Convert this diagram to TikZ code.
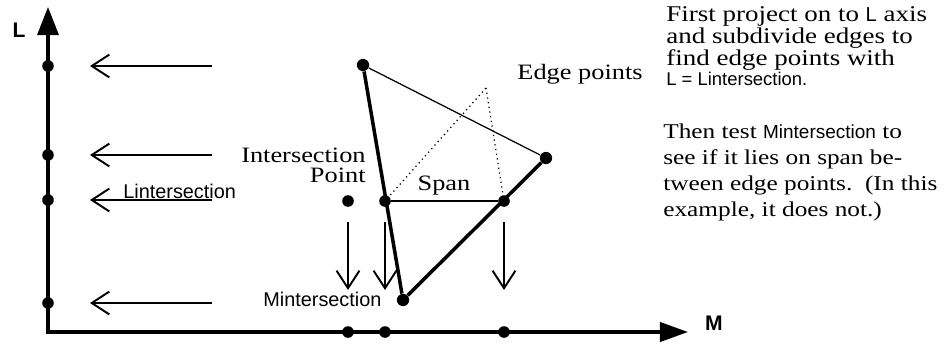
\documentclass[tikz,border=0pt]{standalone}
\usepackage{fontspec}
\setmainfont{Liberation Serif}[FakeStretch=1.2]
\newfontfamily\hlv{Liberation Sans}
\usetikzlibrary{arrows.meta}

\begin{document}
\begin{tikzpicture}[
  x=0.02cm, y=-0.02cm,
  dot/.style={circle, fill, inner sep=0pt, minimum size=6.6pt},
  axis/.style={line width=1.8pt, {Triangle[length=16pt,width=12pt]}-{Triangle[length=16pt,width=11pt]}},
  proj/.style={line width=1.1pt, -{Straight Barb[length=10pt,width=13pt]}},
  thickedge/.style={line width=2pt},
  thinedge/.style={line width=0.7pt},
  lbl/.style={inner sep=0pt, font=\fontsize{12.5}{11.3}\selectfont},
  sanslbl/.style={inner sep=0pt, font=\hlv\fontsize{11.3}{12}\selectfont},
  axislbl/.style={inner sep=0pt, font=\hlv\bfseries\fontsize{12}{12}\selectfont}
]
\useasboundingbox (0,0) rectangle (947,345);

% axes
\coordinate (ltip) at (48,7);
\coordinate (origin) at (48,332);
\coordinate (mtip) at (688,332);
\draw[axis] (ltip) -- (origin) -- (mtip);
\node[axislbl] (llabel) at (19,30) {L};
\node[axislbl] (mlabel) at (714,323) {M};

% triangle
\node[dot, minimum size=7pt] (ta) at (363,65) {};
\node[dot, minimum size=7pt] (tb) at (546,158) {};
\node[dot, minimum size=7pt] (tc) at (403,300) {};
\draw[thickedge] (ta) -- (tc) -- (tb);
\draw[thinedge] (ta) -- (tb);

% edge points and span
\node[dot] (e1) at (385,201) {};
\node[dot] (e2) at (504,201) {};
\node[dot] (ip) at (348,201) {};
\draw[line width=1.1pt] (e1) -- (e2);
\coordinate (apex) at (486,88);
\draw[thinedge, dotted] (apex) -- (e1);
\draw[thinedge, dotted] (apex) -- (e2);

% projections on to L
\foreach \n/\ly in {1/66, 2/155, 3/200, 4/303} {
  \node[dot] (l\n) at (48,\ly) {};
  \coordinate (from\n) at (212,\ly);
  \coordinate (to\n) at (90,\ly);
  \draw[proj] (from\n) -- (to\n);
}

% projections on to M
\foreach \n/\mx in {1/348, 2/385, 3/504} {
  \node[dot] (m\n) at (\mx,332) {};
  \coordinate (top\n) at (\mx,222);
  \coordinate (bot\n) at (\mx,290);
  \draw[proj] (top\n) -- (bot\n);
}

% labels
\node[sanslbl, anchor=base west] (lint) at (123,198) {Lintersection};
\node[sanslbl, anchor=base west] (mint) at (263,306) {Mintersection};
\node[lbl, align=right, anchor=north east] (iplabel) at (366,148) {Intersection\\Point};
\node[lbl] (span) at (444,186) {Span};
\node[lbl] (edgepts) at (580,74) {Edge points};
\node[lbl, align=left, anchor=north west, font=\fontsize{12.8}{9.7}\selectfont]
  (note1) at (666,6)
  {First project on to {\hlv\fontsize{11.5}{9.7}\selectfont L} axis\\
   and subdivide edges to\\
   find edge points with\\
   {\hlv\fontsize{10.5}{9.7}\selectfont L = Lintersection.}};
\node[lbl, align=left, anchor=north west, font=\fontsize{12}{14.8}\selectfont]
  (note2) at (663,124)
  {Then test {\hlv\fontsize{10.8}{14.8}\selectfont Mintersection} to\\
   see if it lies on span be-\\
   tween edge points.\ \ (In this\\
   example, it does not.)};
\end{tikzpicture}
\end{document}
